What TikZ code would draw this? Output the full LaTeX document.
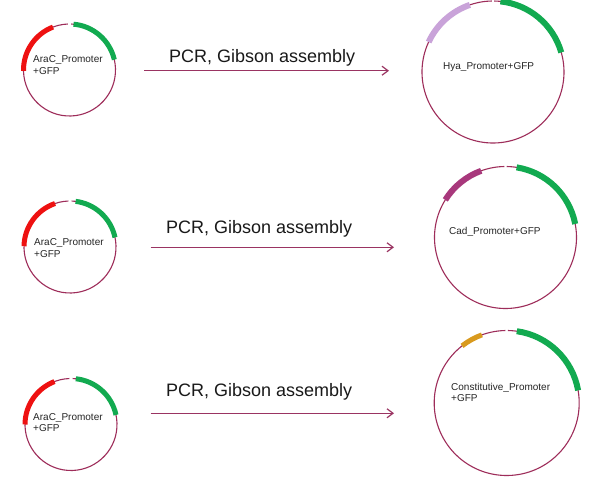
\documentclass[tikz,border=0pt]{standalone}
\usepackage{fontspec}
\setmainfont{Liberation Sans}
\usetikzlibrary{arrows.meta}
\definecolor{bbone}{HTML}{9E2D5A}
\definecolor{arrcol}{HTML}{9A3462}
\definecolor{gfpgreen}{HTML}{12AA50}
\definecolor{arared}{HTML}{EE1111}
\definecolor{hyalilac}{HTML}{C9A3D9}
\definecolor{cadmag}{HTML}{A8387C}
\definecolor{conorange}{HTML}{D99A1E}
\tikzset{
  backbone/.style={draw=bbone, line width=1.1pt},
  feat/.style={line width=#1, line cap=butt},
  feat/.default=5pt,
  smalllabel/.style={font=\fontsize{10}{11.5}\selectfont, anchor=base west, inner sep=0pt, align=left, text=black!85},
  biglabel/.style={font=\fontsize{18}{21}\selectfont, anchor=base west, inner sep=0pt, text=black!90},
  conn/.style={draw=arrcol, line width=1.2pt, -{Straight Barb[length=6pt,width=9pt]}},
  plasmid/.style={circle, inner sep=0pt, minimum size=#1}
}
\begin{document}
\begin{tikzpicture}[x=1pt,y=-1pt]
\useasboundingbox (0,0) rectangle (600,488);
\fill[white] (0,0) rectangle (600,488);

% ---------- left plasmids ----------
\node[plasmid=92pt] (l1) at (69.5,70) {};
\begin{scope}[shift={(69.5,70)},y=1pt]
  \draw[backbone] (92:46) arc[start angle=92,end angle=448,radius=46];
  \draw[feat, draw=arared] (111:46) arc[start angle=111,end angle=181,radius=46];
  \draw[feat, draw=gfpgreen] (13:46) arc[start angle=13,end angle=85,radius=46];
\end{scope}
\node[smalllabel] (t1) at (33,74) {AraC\_Promoter\\+GFP};

\node[plasmid=92pt] (l2) at (70,247) {};
\begin{scope}[shift={(70,247)},y=1pt]
  \draw[backbone] (92:46) arc[start angle=92,end angle=448,radius=46];
  \draw[feat, draw=arared] (109:46) arc[start angle=109,end angle=179,radius=46];
  \draw[feat, draw=gfpgreen] (12:46) arc[start angle=12,end angle=83,radius=46];
\end{scope}
\node[smalllabel] (t2) at (34,257.3) {AraC\_Promoter\\+GFP};

\node[plasmid=92pt] (l3) at (71,424.5) {};
\begin{scope}[shift={(71,424.5)},y=1pt]
  \draw[backbone] (92:46) arc[start angle=92,end angle=448,radius=46];
  \draw[feat, draw=arared] (111:46) arc[start angle=111,end angle=180,radius=46];
  \draw[feat, draw=gfpgreen] (12:46) arc[start angle=12,end angle=84,radius=46];
\end{scope}
\node[smalllabel] (t3) at (33,431.7) {AraC\_Promoter\\+GFP};

% ---------- right plasmids ----------
\node[plasmid=142pt] (r1) at (493,72) {};
\begin{scope}[shift={(493,72)},y=1pt]
  \draw[backbone] (91:71) arc[start angle=91,end angle=449,radius=71];
  \draw[feat=6pt, draw=gfpgreen] (16:71) arc[start angle=16,end angle=84,radius=71];
  \draw[feat=6pt, draw=hyalilac] (109:71) arc[start angle=109,end angle=155,radius=71];
\end{scope}
\node[smalllabel] (u1) at (443,69) {Hya\_Promoter+GFP};

\node[plasmid=142pt] (r2) at (505.5,237.5) {};
\begin{scope}[shift={(505.5,237.5)},y=1pt]
  \draw[backbone] (91:71) arc[start angle=91,end angle=449,radius=71];
  \draw[feat=6pt, draw=gfpgreen] (11:71) arc[start angle=11,end angle=81,radius=71];
  \draw[feat=6pt, draw=cadmag] (110:71) arc[start angle=110,end angle=148,radius=71];
\end{scope}
\node[smalllabel] (u2) at (449,234) {Cad\_Promoter+GFP};

\node[plasmid=145pt] (r3) at (506.7,403) {};
\begin{scope}[shift={(506.7,403)},y=1pt]
  \draw[backbone] (91:72.5) arc[start angle=91,end angle=449,radius=72.5];
  \draw[feat=6pt, draw=gfpgreen] (10:72.5) arc[start angle=10,end angle=82,radius=72.5];
  \draw[feat=5pt, draw=conorange] (110:72.5) arc[start angle=110,end angle=128,radius=72.5];
\end{scope}
\node[smalllabel] (u3) at (451,401.7) {Constitutive\_Promoter\\+GFP};

% ---------- arrows ----------
\coordinate (s1) at (144,70.7);  \coordinate (e1) at (389,70.7);
\coordinate (s2) at (150.5,247.3); \coordinate (e2) at (394,247.3);
\coordinate (s3) at (150.5,413.3); \coordinate (e3) at (394,413.3);
\draw[conn] (s1) -- (e1);
\draw[conn] (s2) -- (e2);
\draw[conn] (s3) -- (e3);
\node[biglabel] (a1) at (169,62) {PCR, Gibson assembly};
\node[biglabel] (a2) at (166,233.3) {PCR, Gibson assembly};
\node[biglabel] (a3) at (166,396.7) {PCR, Gibson assembly};
\end{tikzpicture}
\end{document}
